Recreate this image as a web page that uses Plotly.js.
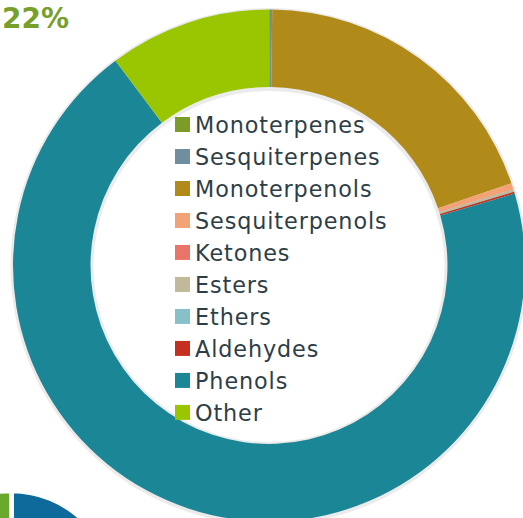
<!DOCTYPE html>
<html>
<head>
<meta charset="utf-8">
<script src="https://cdn.plot.ly/plotly-3.0.1.min.js"></script>
<style>
  html, body { margin: 0; padding: 0; width: 523px; height: 518px; overflow: hidden; background: #ffffff; }
  #chart { position: absolute; left: -120px; top: 0; width: 660px; height: 720px; }
  #chart .legendtext { letter-spacing: 0.9px; }
  #chart .legend .scrollbox { clip-path: none !important; }
  #chart .legendpoints path { transform: translate(27.5px, 0px) scale(1.25); }
</style>
</head>
<body>
<div id="chart"></div>
<script>
// ---- data ----
const categories = ["Monoterpenes", "Sesquiterpenes", "Monoterpenols", "Sesquiterpenols", "Ketones",
                    "Esters", "Ethers", "Aldehydes", "Phenols", "Other"];
const shares = [0.05, 0.15, 19.6, 0.35, 0.03, 0.15, 0.02, 0.12, 69.29, 10.24];
const sliceColors = ["#7b9c29", "#6f8fa1", "#b08b1a", "#f2a275", "#ea7468",
                     "#c1b999", "#88c0c9", "#c4301d", "#1b8696", "#99c501"];
const headline = "22%";
// partially visible neighbouring donut (bottom-left)
const neighbourLabels = ["Main", "Rest"];
const neighbourShares = [78, 22];
const neighbourColors = ["#0e6a9b", "#6aa92b"];

// ---- geometry (page px -> paper) ----
const W = 660, H = 720, OFF = 120;
function dom(cx, cy, r) {
  return { x: [(cx - r + OFF) / W, (cx + r + OFF) / W], y: [1 - (cy + r) / H, 1 - (cy - r) / H] };
}
const cx = 269, cy = 265.5, R = 256, rin = 178.5;

const traces = [
  { // soft shadow ring
    type: "pie", values: [1], labels: ["shadow"], showlegend: false, sort: false,
    textinfo: "none", hoverinfo: "skip",
    marker: { colors: ["rgba(0,0,0,0.08)"], line: { width: 0 } },
    domain: dom(cx, cy + 1, R + 2.5), hole: (rin - 3) / (R + 2.5)
  },
  {
    type: "pie", labels: categories, values: shares, sort: false, direction: "clockwise", rotation: 0,
    textinfo: "none", hoverinfo: "label+percent",
    marker: { colors: sliceColors, line: { width: 0 } },
    domain: dom(cx, cy, R), hole: rin / R
  },
  {
    type: "pie", labels: neighbourLabels, values: neighbourShares, sort: false, direction: "clockwise",
    rotation: 0, showlegend: false, textinfo: "none", hoverinfo: "skip",
    marker: { colors: neighbourColors, line: { width: 4.5, color: "#ffffff" } },
    domain: dom(11.5, 593, 102), hole: 0.5
  }
];

const layout = {
  width: W, height: H,
  margin: { l: 0, r: 0, t: 0, b: 0 },
  paper_bgcolor: "#ffffff", plot_bgcolor: "#ffffff",
  showlegend: true,
  legend: {
    x: (155 + OFF) / W, xanchor: "left",
    y: 1 - 103.5 / H, yanchor: "top",
    bgcolor: "rgba(0,0,0,0)",
    font: { family: "DejaVu Sans", size: 22.3, color: "#2e3e46" },
    traceorder: "normal", itemclick: false
  },
  annotations: [{
    text: headline, showarrow: false, xref: "paper", yref: "paper",
    x: (0 + OFF) / W, xanchor: "left", y: 1 - 18 / H, yanchor: "middle",
    font: { family: "DejaVu Sans", size: 28, color: "#77a02b", weight: "bold" }
  }]
};

Plotly.newPlot("chart", traces, layout, { staticPlot: true, displayModeBar: false });
</script>
</body>
</html>
